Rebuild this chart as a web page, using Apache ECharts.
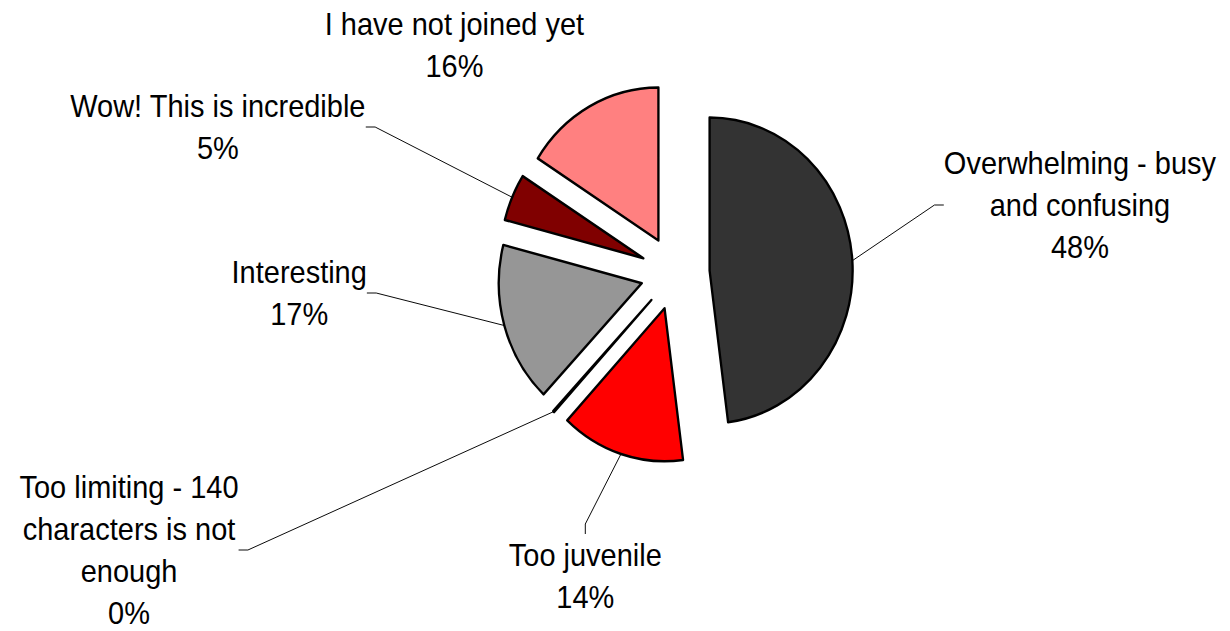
<!DOCTYPE html>
<html>
<head>
<meta charset="utf-8">
<title>Pie</title>
<script src="https://cdn.jsdelivr.net/npm/echarts@6.0.0/dist/echarts.min.js"></script>
<style>
  html, body { margin: 0; padding: 0; background: #fff; overflow: hidden; }
  /* the original picture is squeezed horizontally, so draw wider and scale x */
  #chart { width: 1316px; height: 631px; transform: scaleX(0.935); transform-origin: 0 0; }
</style>
</head>
<body>
<div id="chart"></div>
<script>
// slices, clockwise from 12 o'clock
const categories = [
    'Overwhelming - busy\nand confusing',
    'Too juvenile',
    'Too limiting - 140\ncharacters is not\nenough',
    'Interesting',
    'Wow! This is incredible',
    'I have not joined yet'
]
const values = [48, 14, 0, 17, 5, 16]
const colors = ['#333333', '#FF0000', '#808080', '#969696', '#800000', '#FF8080']

// layout, in the unscaled drawing space
const CX = 722, CY = 273, R = 153
const EXPLODE = 37
const MIN_ANGLE = 0.5
const labelPos = [[1155, 205], [626, 576], [138, 550], [320, 293], [233, 127], [486, 45]]
const labelSide = ['left', 'top', 'right', 'right', 'right', null]
const LINE2 = 10

// same angle split as echarts does with minAngle
function sliceAngles(vals) {
    const total = vals.reduce((a, b) => a + b, 0)
    let rest = 360, bigSum = 0
    const tiny = vals.map(v => v / total * 360 < MIN_ANGLE)
    vals.forEach((v, i) => {
        if (tiny[i]) rest -= MIN_ANGLE
        else bigSum += v
    })
    return vals.map((v, i) => tiny[i] ? MIN_ANGLE : v / bigSum * rest)
}

const angles = sliceAngles(values)
let acc = 0
const mids = angles.map(a => {
    const m = acc + a / 2
    acc += a
    return m * Math.PI / 180
})

function placeLabel(params) {
    const i = params.dataIndex
    const x = labelPos[i][0], y = labelPos[i][1]
    const out = { x: x, y: y, align: 'center', verticalAlign: 'middle' }
    const side = labelSide[i]
    const pts = params.labelLinePoints
    if (side && pts) {
        const w = params.labelRect.width, h = params.labelRect.height
        let end, bend
        if (side === 'left') {
            end = [x - w / 2, y]; bend = [end[0] - LINE2, y]
        } else if (side === 'right') {
            end = [x + w / 2, y]; bend = [end[0] + LINE2, y]
        } else {
            end = [x, y - h / 2]; bend = [x, end[1] - LINE2]
        }
        out.labelLinePoints = [pts[0], bend, end]
    }
    return out
}

// one pie per slice so every slice can be pulled out from the centre
const series = categories.map((name, i) => ({
    type: 'pie',
    radius: R,
    center: [CX + EXPLODE * Math.sin(mids[i]), CY - EXPLODE * Math.cos(mids[i])],
    startAngle: 90,
    clockwise: true,
    minAngle: MIN_ANGLE,
    silent: true,
    emphasis: { disabled: true },
    avoidLabelOverlap: false,
    itemStyle: { color: 'transparent', borderWidth: 0 },
    label: {
        show: false,
        position: 'outside',
        color: '#000',
        fontFamily: '"Liberation Sans", Arial, sans-serif',
        fontSize: 31,
        lineHeight: 42,
        formatter: p => p.name + '\n' + Math.round(p.percent) + '%'
    },
    labelLine: { show: false, length: 10, length2: LINE2, lineStyle: { color: '#000', width: 1 } },
    labelLayout: placeLabel,
    data: categories.map((n, j) => j === i ? {
        name: n,
        value: values[j],
        itemStyle: { color: colors[j], borderColor: '#000', borderWidth: 2.5 },
        label: { show: true },
        labelLine: { show: labelSide[j] != null }
    } : { name: n, value: values[j] })
}))

const chart = echarts.init(document.getElementById('chart'), null, { renderer: 'svg' })
chart.setOption({
    animation: false,
    backgroundColor: '#fff',
    series: series
})
</script>
</body>
</html>
